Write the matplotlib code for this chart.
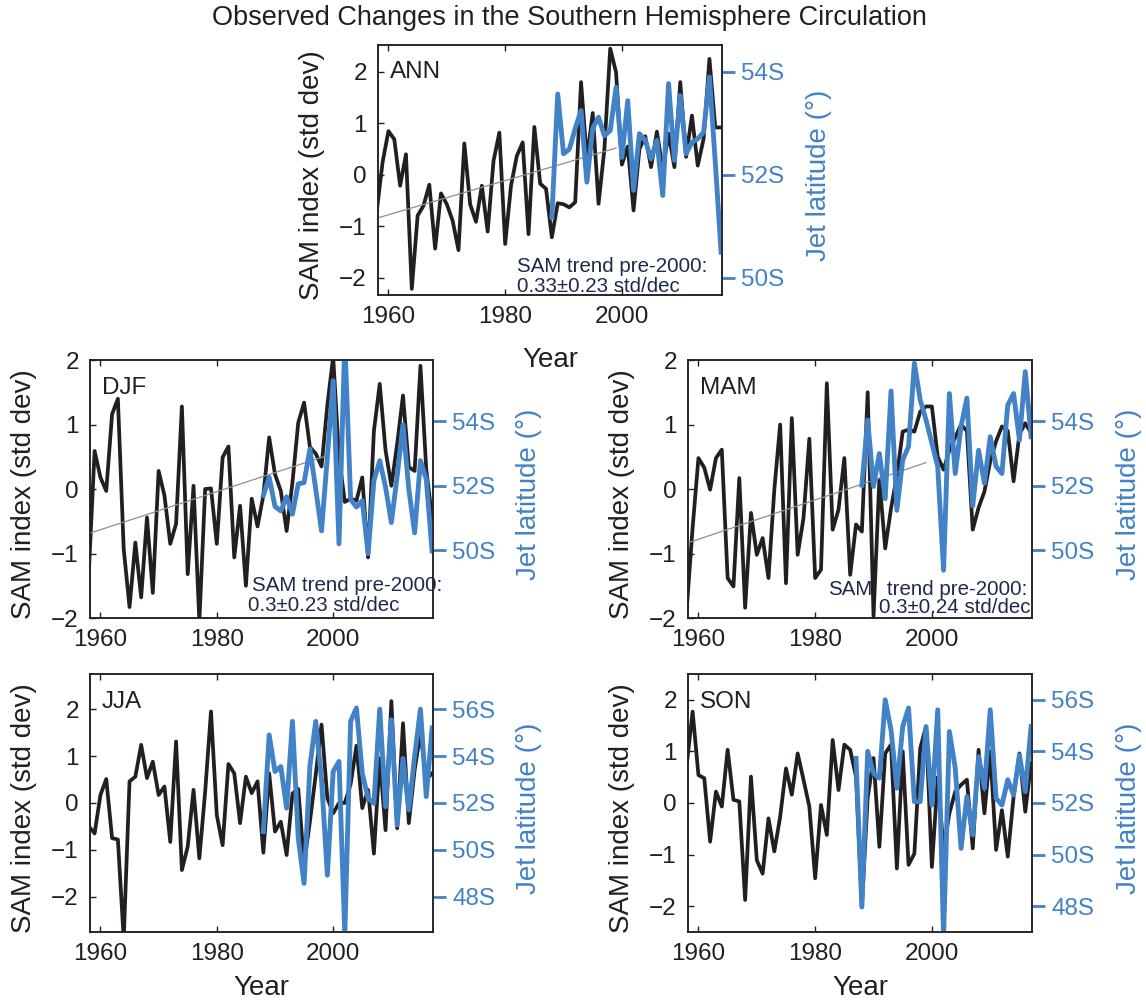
import matplotlib
matplotlib.use('Agg')
import matplotlib.pyplot as plt

plt.rcParams['font.family'] = ['Liberation Sans', 'DejaVu Sans']

BLACK = '#231f20'
BLUE = '#4282c6'
NAVY = '#1c2a4a'
GREY = '#8f8f8f'

# ── Data ──────────────────────────────────────────────────────────────────────
YEARS = list(range(1958, 2018))
JET_YEARS = list(range(1988, 2018))
JET_YEARS_SON = list(range(1987, 2018))
TREND_YEARS = [1958, 1999]

sam_ann = [-0.70, 0.25, 0.85, 0.69, -0.21, 0.40, -2.21, -0.79, -0.60, -0.19,
           -1.43, -0.36, -0.57, -0.89, -1.46, 0.61, -0.57, -0.91, -0.21, -1.10,
           0.27, 0.82, -1.34, -0.21, 0.37, 0.63, -1.15, 0.93, -0.17, -0.27,
           -1.21, -0.55, -0.57, -0.63, -0.53, 1.80, 0.30, 1.20, -0.56, 0.50,
           2.45, 1.99, 0.20, 0.55, -0.69, 0.50, 0.75, 0.15, 0.84, 0.10,
           0.80, 0.15, 1.80, 0.35, 1.15, 0.18, 0.70, 2.25, 0.92, 0.92]
jet_ann = [51.18, 53.57, 52.41, 52.50, 52.90, 53.25, 51.86, 52.90, 53.12, 52.76,
           52.86, 53.70, 52.34, 53.44, 51.70, 52.80, 52.67, 52.31, 52.67, 51.60,
           53.77, 52.28, 53.54, 52.41, 52.63, 52.70, 52.83, 53.90, 52.25, 50.50]
trend_ann = [-0.84, 0.52]

sam_djf = [-1.30, 0.59, 0.18, -0.03, 1.16, 1.40, -0.93, -1.83, -0.83, -1.68,
           -0.44, -1.61, 0.28, -0.10, -0.85, -0.54, 1.28, -1.32, 0.05, -2.05,
           0.00, 0.01, -0.85, 0.49, 0.66, -1.06, -0.26, -1.50, -0.15, -0.58,
           -0.10, 0.80, 0.23, -0.03, -0.65, 0.10, 1.03, 1.34, 0.65, 0.55,
           0.35, 1.30, 2.05, 0.50, -0.20, -0.15, -0.18, 0.18, -1.06, 0.90,
           1.63, 0.60, 0.05, 0.70, 1.45, 0.34, 0.28, 1.91, 0.30, -0.45]
jet_djf = [51.70, 52.26, 51.36, 51.22, 51.66, 51.12, 52.06, 52.10, 53.14, 51.90,
           50.60, 52.90, 55.26, 50.20, 56.50, 51.58, 51.34, 51.54, 49.90, 52.16,
           52.78, 51.96, 50.86, 52.30, 53.90, 51.90, 50.54, 52.78, 52.20, 49.98]
trend_djf = [-0.69, 0.52]

sam_mam = [-1.85, -0.60, 0.48, 0.33, -0.01, 0.48, 0.61, -1.38, -1.51, 0.17,
           -1.84, -0.37, -1.02, -0.76, -1.38, -0.01, 1.00, -1.46, 1.10, -1.02,
           -0.45, 0.78, -1.38, -1.25, 1.64, -0.63, -0.32, 0.48, -1.33, -0.55,
           -0.66, 1.50, -1.97, 0.15, -0.92, -0.30, 0.20, 0.89, 0.92, 0.89,
           1.20, 1.28, 1.28, 0.50, 0.30, 0.60, 0.80, 1.00, 0.90, -0.63,
           -0.29, -0.04, 0.43, 0.74, 0.97, 0.90, 0.12, 0.85, 1.02, 0.87]
jet_mam = [52.02, 54.04, 51.98, 53.00, 51.60, 54.94, 51.24, 52.80, 53.22, 55.80,
           54.66, 54.04, 53.32, 52.60, 49.38, 54.86, 52.38, 53.84, 54.72, 51.38,
           53.10, 52.08, 53.52, 52.60, 52.38, 54.50, 54.86, 53.42, 55.54, 53.52]
trend_mam = [-0.84, 0.41]

sam_jja = [-0.50, -0.65, 0.17, 0.51, -0.75, -0.78, -2.90, 0.46, 0.56, 1.24,
           0.53, 0.88, 0.17, 0.35, -0.83, 1.31, -1.43, -0.93, 0.28, -1.18,
           0.24, 1.95, -0.26, -0.90, 0.83, 0.63, -0.43, 0.56, 0.21, 0.46,
           -1.06, 0.63, -0.61, -0.40, -1.11, 0.20, 0.30, -1.30, -0.40, 0.60,
           1.67, 0.10, -0.22, 0.00, 0.00, 0.40, 1.22, -0.11, 0.28, -1.08,
           0.95, -0.58, 2.17, -0.54, 1.70, -0.43, 0.70, 1.50, 0.50, 0.63]
jet_jja = [50.78, 54.90, 53.34, 53.55, 51.78, 55.48, 50.50, 48.57, 53.55, 55.48,
           53.00, 48.92, 53.34, 53.77, 46.40, 55.48, 56.05, 53.27, 52.20, 51.98,
           56.00, 51.84, 55.55, 51.06, 53.90, 51.70, 54.00, 56.00, 52.27, 55.20]

sam_son = [0.75, 1.77, 0.54, 0.48, -0.75, 0.22, -0.07, 1.03, 0.06, 0.03,
           -1.88, 0.51, -1.11, -1.37, -0.30, -0.94, -0.27, 0.67, 0.16, 0.96,
           0.45, -0.07, -1.46, -0.04, -0.62, 1.22, 0.25, 1.13, 1.03, 0.51,
           -2.01, 0.10, 0.87, -0.85, 0.96, 1.13, -1.27, 1.00, -1.20, -0.98,
           1.06, 1.48, -1.24, 0.50, -0.90, -0.20, 0.22, 0.35, 0.45, -0.88,
           1.03, -0.20, 1.00, -0.91, -0.14, -1.04, 0.12, 0.96, -0.17, 0.77]
jet_son = [53.73, 47.97, 54.00, 53.15, 52.96, 56.00, 54.83, 52.57, 54.96, 55.68,
           52.05, 52.05, 54.96, 51.92, 55.61, 46.80, 54.77, 53.35, 50.24, 52.25,
           50.76, 53.80, 52.57, 55.61, 52.18, 51.92, 52.90, 52.31, 53.86, 52.44,
           54.96]

TICK_FS = 17.5
LABEL_FS = 20

fig = plt.figure(figsize=(11.46, 10.02), dpi=100)
fig.text(0.497, 0.982, "Observed Changes in the Southern Hemisphere Circulation",
         ha='center', va='center', fontsize=19.5, color=BLACK)


def panel(rect, sam, jet, jet_years, ylim, jlim, jticks, name,
          trend=None, notes=(), year_y=None):
    ax = fig.add_axes(rect)
    ax.plot(YEARS, sam, color=BLACK, lw=2.7, zorder=2)
    if trend is not None:
        ax.plot(TREND_YEARS, trend, color=GREY, lw=0.9, zorder=3)
    ax.set_xlim(1958.2, 2017.15)
    ax.set_ylim(*ylim)
    ax.set_xticks([1960, 1980, 2000])
    ax.set_yticks([-2, -1, 0, 1, 2])
    ax.tick_params(direction='in', length=4, width=1, labelsize=TICK_FS,
                   colors=BLACK, top=True, pad=8)
    for s in ax.spines.values():
        s.set_linewidth(1.1)
        s.set_color(BLACK)

    ax2 = ax.twinx()
    ax2.plot(jet_years, jet, color=BLUE, lw=3.5)
    ax2.set_ylim(*jlim)
    ax2.set_yticks(jticks)
    ax2.set_yticklabels([f'{t}S' for t in jticks])
    ax2.tick_params(axis='y', direction='out', length=9, width=2,
                    colors=BLUE, labelsize=TICK_FS, pad=5)
    for s in ax2.spines.values():
        s.set_linewidth(1.1)
        s.set_color(BLACK)

    ax.text(0.034, 0.89, name, transform=ax.transAxes, fontsize=TICK_FS,
            color=BLACK, ha='left', va='center')
    ax.text(-0.192, 0.48, 'SAM index (std dev)', transform=ax.transAxes,
            rotation=90, ha='center', va='center', fontsize=LABEL_FS, color=BLACK)
    ax.text(1.281, 0.48, 'Jet latitude (°)', transform=ax.transAxes,
            rotation=90, ha='center', va='center', fontsize=LABEL_FS, color=BLUE)
    for x, y, s in notes:
        ax.text(x, y, s, transform=ax.transAxes, fontsize=14.8, color=NAVY,
                ha='left', va='center', zorder=5)
    if year_y is not None:
        ax.text(0.5, year_y, 'Year', transform=ax.transAxes, ha='center',
                va='center', fontsize=LABEL_FS, color=BLACK)
    return ax


panel([0.3298, 0.7056, 0.3002, 0.2495], sam_ann, jet_ann, JET_YEARS,
      (-2.33, 2.52), (49.67, 54.52), [50, 52, 54], 'ANN', trend=trend_ann,
      notes=[(0.404, 0.114, 'SAM trend pre-2000:'),
             (0.404, 0.034, '0.33±0.23 std/dec')],
      year_y=-0.26)
panel([0.0785, 0.3832, 0.2993, 0.2575], sam_djf, jet_djf, JET_YEARS,
      (-2, 2), (47.9, 55.9), [50, 52, 54], 'DJF', trend=trend_djf,
      notes=[(0.472, 0.128, 'SAM trend pre-2000:'),
             (0.461, 0.050, '0.3±0.23 std/dec')])
panel([0.6003, 0.3832, 0.3002, 0.2575], sam_mam, jet_mam, JET_YEARS,
      (-2, 2), (47.9, 55.9), [50, 52, 54], 'MAM', trend=trend_mam,
      notes=[(0.407, 0.112, 'SAM'),
             (0.578, 0.112, 'trend pre-2000:'),
             (0.555, 0.039, '0.3±0.24 std/dec')])
panel([0.0785, 0.0699, 0.2993, 0.2575], sam_jja, jet_jja, JET_YEARS,
      (-2.75, 2.75), (46.5, 57.5), [48, 50, 52, 54, 56], 'JJA', year_y=-0.217)
panel([0.6003, 0.0699, 0.3002, 0.2575], sam_son, jet_son, JET_YEARS_SON,
      (-2.5, 2.5), (47, 57), [48, 50, 52, 54, 56], 'SON', year_y=-0.217)

fig.savefig('out.png', dpi=100)
